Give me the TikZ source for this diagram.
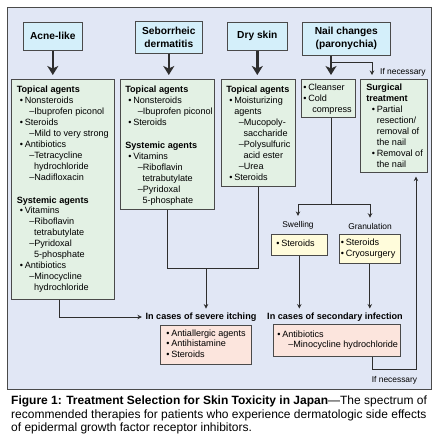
\documentclass[tikz,border=0pt]{standalone}
\usepackage{fontspec}
\setmainfont{Liberation Sans}
\usetikzlibrary{arrows.meta,calc}
\definecolor{panelbg}{HTML}{E1E7F5}
\definecolor{hdrbg}{HTML}{D4EFFA}
\definecolor{grnbg}{HTML}{E3F1E4}
\definecolor{ylwbg}{HTML}{FFFCDB}
\definecolor{pnkbg}{HTML}{FCE5DD}
\definecolor{bdr}{HTML}{4A4A4A}
\definecolor{lnc}{HTML}{2E2E2E}
\newcommand\bodyf{\fontsize{9.1}{10.9}\selectfont}
\newcommand\hdrf{\fontsize{10.2}{13}\selectfont\bfseries}
\newcommand\lblf{\fontsize{8.4}{10}\selectfont}
\newcommand\bul{\textbullet\hspace{1.8pt}}
\newcommand\lvA{\hspace*{3pt}\bul}
\newcommand\lvAc{\hspace*{3pt}\phantom{\bul}}
\newcommand\lvB{\hspace*{12.5pt}–}
\newcommand\lvC{\hspace*{17.3pt}}
\newcommand\pbx[4]{\parbox[c][#2pt][#3]{#1pt}{\begin{tabular}[t]{@{}l@{}}#4\end{tabular}}}
\tikzset{
  base/.style={draw=bdr, line width=0.6pt, inner sep=0pt, anchor=north west, font=\bodyf},
  hdr/.style={base, fill=hdrbg, align=center, font=\hdrf},
  gbox/.style={base, fill=grnbg},
  ybox/.style={base, fill=ylwbg},
  pbox/.style={base, fill=pnkbg},
  lbl/.style={font=\lblf, inner sep=0pt},
  cond/.style={font=\bodyf\bfseries, inner sep=0pt},
  bigarrow/.style={line width=2.6pt, draw=lnc, -{Stealth[length=9pt,width=11pt,inset=2.5pt]}, shorten >=4pt},
  thinline/.style={line width=0.8pt, draw=lnc},
  thinarrow/.style={thinline, -{Stealth[length=4.5pt,width=4.5pt]}},
}
\begin{document}
\begin{tikzpicture}[x=1pt,y=-1pt]
\useasboundingbox (0,0) rectangle (434,437);
% panel
\node[base, fill=panelbg, minimum width=424pt, minimum height=382pt] (panel) at (7,7) {};
% headers
\node[hdr, minimum width=59pt, minimum height=28pt] (h1) at (23,22) {Acne-like};
\node[hdr, minimum width=67pt, minimum height=32pt] (h2) at (135,21) {Seborrheic\\dermatitis};
\node[hdr, minimum width=60pt, minimum height=28pt] (h3) at (227,22) {Dry skin};
\node[hdr, minimum width=88pt, minimum height=33pt] (h4) at (302,22) {Nail changes\\(paronychia)};
% green boxes
\node[gbox, inner xsep=5.5pt, inner ysep=6pt] (g1) at (11,79) {\pbx{92}{208}{t}{%
\textbf{Topical agents}\\
\lvA Nonsteroids\\
\lvB Ibuprofen piconol\\
\lvA Steroids\\
\lvB Mild to very strong\\
\lvA Antibiotics\\
\lvB Tetracycline\\
\lvC hydrochloride\\
\lvB Nadifloxacin\\[12pt]
\textbf{Systemic agents}\\
\lvA Vitamins\\
\lvB Riboflavin\\
\lvC tetrabutylate\\
\lvB Pyridoxal\\
\lvC 5-phosphate\\
\lvA Antibiotics\\
\lvB Minocycline\\
\lvC hydrochloride}};
\node[gbox, inner xsep=5pt, inner ysep=6pt] (g2) at (120,79) {\pbx{84}{118}{t}{%
\textbf{Topical agents}\\
\lvA Nonsteroids\\
\lvB Ibuprofen piconol\\
\lvA Steroids\\[12pt]
\textbf{Systemic agents}\\
\lvA Vitamins\\
\lvB Riboflavin\\
\lvC tetrabutylate\\
\lvB Pyridoxal\\
\lvC 5-phosphate}};
\node[gbox, inner xsep=5pt, inner ysep=6pt] (g3) at (221,79) {\pbx{64}{95}{t}{%
\textbf{Topical agents}\\
\lvA Moisturizing\\
\lvAc agents\\
\lvB Mucopoly-\\
\lvC saccharide\\
\lvB Polysulfuric\\
\lvC acid ester\\
\lvB Urea\\
\lvA Steroids}};
\node[gbox, inner xsep=2pt, inner ysep=4pt] (g4) at (301,79) {\pbx{50}{30}{t}{%
\bul Cleanser\\
\bul Cold\\
\hspace*{9pt}compress}};
\node[gbox, inner xsep=6pt, inner ysep=4pt] (g5) at (360,79) {\pbx{55}{85}{t}{%
\textbf{Surgical}\\
\textbf{treatment}\\
\hspace*{5.5pt}\bul Partial\\
\hspace*{5.5pt}\phantom{\bul}resection/\\
\hspace*{5.5pt}\phantom{\bul}removal of\\
\hspace*{5.5pt}\phantom{\bul}the nail\\
\hspace*{5.5pt}\bul Removal of\\
\hspace*{5.5pt}\phantom{\bul}the nail}};
% labels
\node[lbl, anchor=west] (n1) at (380,72.5) {If necessary};
\node[lbl] (sw) at (298,225) {Swelling};
\node[lbl] (gr) at (370,226) {Granulation};
\node[lbl] (n2) at (394.5,380) {If necessary};
% yellow boxes
\node[ybox, inner xsep=5pt, inner ysep=2pt] (y1) at (271,234) {\pbx{46}{17}{c}{\bul Steroids}};
\node[ybox, inner xsep=1.5pt, inner ysep=2pt] (y2) at (339,234) {\pbx{58}{25}{c}{\bul Steroids\\\bul Cryosurgery}};
% conditions
\node[cond] (t1) at (201,317) {In cases of severe itching};
\node[cond] (t2) at (335,317) {In cases of secondary infection};
% pink boxes
\node[pbox, inner xsep=6pt, inner ysep=2pt] (p1) at (160,325) {\pbx{79}{35}{c}{\bul Antiallergic agents\\\bul Antihistamine\\\bul Steroids}};
\node[pbox, inner xsep=4pt, inner ysep=2pt] (p2) at (273,324) {\pbx{119}{28}{c}{\bul Antibiotics\\\hspace*{11pt}–Minocycline hydrochloride}};
% caption
\node[anchor=north west, inner sep=0pt, align=left, font=\fontsize{12}{13.3}\selectfont] (cap) at (11,396) {\textbf{Figure 1: Treatment Selection for Skin Toxicity in Japan}—The spectrum of\\recommended therapies for patients who experience dermatologic side effects\\of epidermal growth factor receptor inhibitors.};
% junction coordinates
\coordinate (j1) at (206,268);
\coordinate (j2) at (331,204);
\coordinate (k1) at (416,369);
% big arrows
\draw[bigarrow] (h1.south) -- (h1.south |- g1.north);
\draw[bigarrow] (h2.south) -- (h2.south |- g2.north);
\draw[bigarrow] (h3.south) -- (h3.south |- g3.north);
\draw[bigarrow] ($(h4.south west)+(29,0)$) -- ($(g4.north west)+(30,0)$);
\draw[thinarrow, shorten >=4pt] ($(h4.south west)+(29,7)$) -| ($(g5.north west)+(12,0)$);
% connectors
\draw[thinarrow, shorten >=3.5pt] ($(g1.south west)+(48,0)$) |- (t1.west);
\draw[thinline] (g2.south) |- (j1);
\draw[thinline] (g3.south) |- (j1);
\draw[thinarrow, shorten >=4pt] (j1) -- (j1 |- t1.north);
\draw[thinline] ($(g4.south west)+(30,0)$) -- (j2);
\draw[thinarrow, shorten >=5pt] (j2) -| (sw.north);
\draw[thinarrow, shorten >=5pt] (j2) -| (gr.north);
\draw[thinarrow, shorten >=4pt] (y1.south) -- (y1.south |- t2.north);
\draw[thinarrow, shorten >=4pt] (y2.south) -- (y2.south |- t2.north);
\draw[thinarrow, shorten >=4pt] ($(p2.south west)+(99,0)$) |- (k1) -- (k1 |- g5.south);
\end{tikzpicture}
\end{document}
